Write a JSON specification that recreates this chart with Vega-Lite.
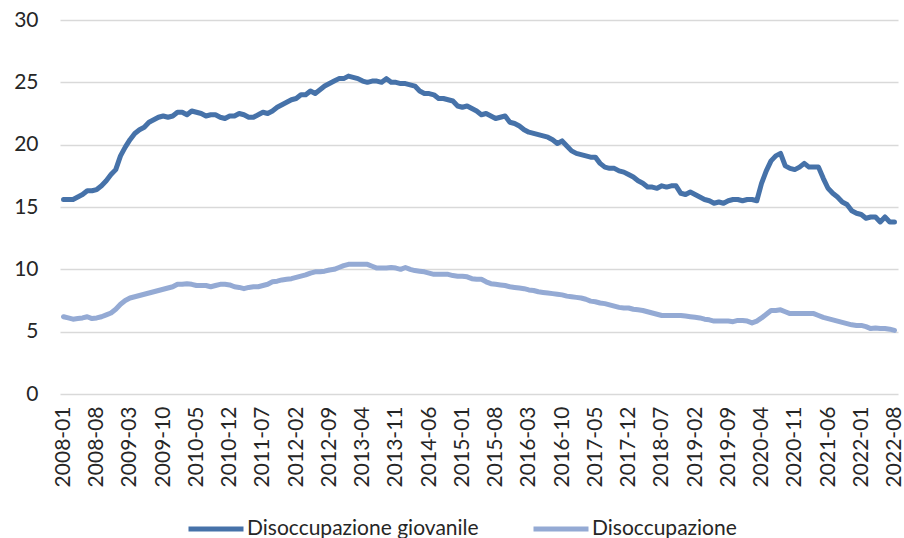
{
  "$schema": "https://vega.github.io/schema/vega-lite/v6.json",
  "width": 838,
  "height": 374,
  "autosize": {"type": "none"},
  "padding": {"left": 60, "top": 20, "right": 6, "bottom": 144},
  "background": "white",
  "config": {
    "view": {"stroke": null},
    "font": "Lato",
    "axis": {"labelFont": "Lato", "labelColor": "#262626", "domain": false, "ticks": false}
  },
  "data": {"values": [
{"m":"2008-01","g":15.6,"d":6.2},{"m":"2008-02","g":15.6,"d":6.1},{"m":"2008-03","g":15.6,"d":6.0},{"m":"2008-04","g":15.8,"d":6.05},{"m":"2008-05","g":16.0,"d":6.1},{"m":"2008-06","g":16.3,"d":6.2},{"m":"2008-07","g":16.3,"d":6.05},{"m":"2008-08","g":16.4,"d":6.1},{"m":"2008-09","g":16.7,"d":6.2},{"m":"2008-10","g":17.1,"d":6.35},{"m":"2008-11","g":17.6,"d":6.5},{"m":"2008-12","g":18.0,"d":6.8},
{"m":"2009-01","g":19.1,"d":7.2},{"m":"2009-02","g":19.8,"d":7.5},{"m":"2009-03","g":20.4,"d":7.7},{"m":"2009-04","g":20.9,"d":7.8},{"m":"2009-05","g":21.2,"d":7.9},{"m":"2009-06","g":21.4,"d":8.0},{"m":"2009-07","g":21.8,"d":8.1},{"m":"2009-08","g":22.0,"d":8.2},{"m":"2009-09","g":22.2,"d":8.3},{"m":"2009-10","g":22.3,"d":8.4},{"m":"2009-11","g":22.2,"d":8.5},{"m":"2009-12","g":22.3,"d":8.6},
{"m":"2010-01","g":22.6,"d":8.8},{"m":"2010-02","g":22.6,"d":8.8},{"m":"2010-03","g":22.4,"d":8.85},{"m":"2010-04","g":22.7,"d":8.8},{"m":"2010-05","g":22.6,"d":8.7},{"m":"2010-06","g":22.5,"d":8.7},{"m":"2010-07","g":22.3,"d":8.7},{"m":"2010-08","g":22.4,"d":8.6},{"m":"2010-09","g":22.4,"d":8.7},{"m":"2010-10","g":22.2,"d":8.8},{"m":"2010-11","g":22.1,"d":8.8},{"m":"2010-12","g":22.3,"d":8.75},
{"m":"2011-01","g":22.3,"d":8.6},{"m":"2011-02","g":22.5,"d":8.55},{"m":"2011-03","g":22.4,"d":8.45},{"m":"2011-04","g":22.2,"d":8.55},{"m":"2011-05","g":22.2,"d":8.6},{"m":"2011-06","g":22.4,"d":8.6},{"m":"2011-07","g":22.6,"d":8.7},{"m":"2011-08","g":22.5,"d":8.8},{"m":"2011-09","g":22.7,"d":9.0},{"m":"2011-10","g":23.0,"d":9.05},{"m":"2011-11","g":23.2,"d":9.15},{"m":"2011-12","g":23.4,"d":9.2},
{"m":"2012-01","g":23.6,"d":9.25},{"m":"2012-02","g":23.7,"d":9.35},{"m":"2012-03","g":24.0,"d":9.45},{"m":"2012-04","g":24.0,"d":9.55},{"m":"2012-05","g":24.3,"d":9.7},{"m":"2012-06","g":24.1,"d":9.8},{"m":"2012-07","g":24.4,"d":9.8},{"m":"2012-08","g":24.7,"d":9.85},{"m":"2012-09","g":24.9,"d":9.95},{"m":"2012-10","g":25.1,"d":10.0},{"m":"2012-11","g":25.3,"d":10.15},{"m":"2012-12","g":25.3,"d":10.3},
{"m":"2013-01","g":25.5,"d":10.4},{"m":"2013-02","g":25.4,"d":10.4},{"m":"2013-03","g":25.3,"d":10.4},{"m":"2013-04","g":25.1,"d":10.4},{"m":"2013-05","g":25.0,"d":10.4},{"m":"2013-06","g":25.1,"d":10.25},{"m":"2013-07","g":25.1,"d":10.1},{"m":"2013-08","g":25.0,"d":10.1},{"m":"2013-09","g":25.3,"d":10.1},{"m":"2013-10","g":25.0,"d":10.15},{"m":"2013-11","g":25.0,"d":10.1},{"m":"2013-12","g":24.9,"d":10.0},
{"m":"2014-01","g":24.9,"d":10.15},{"m":"2014-02","g":24.8,"d":10.0},{"m":"2014-03","g":24.7,"d":9.9},{"m":"2014-04","g":24.3,"d":9.85},{"m":"2014-05","g":24.1,"d":9.8},{"m":"2014-06","g":24.1,"d":9.7},{"m":"2014-07","g":24.0,"d":9.6},{"m":"2014-08","g":23.7,"d":9.6},{"m":"2014-09","g":23.7,"d":9.6},{"m":"2014-10","g":23.6,"d":9.6},{"m":"2014-11","g":23.5,"d":9.5},{"m":"2014-12","g":23.1,"d":9.45},
{"m":"2015-01","g":23.0,"d":9.45},{"m":"2015-02","g":23.1,"d":9.4},{"m":"2015-03","g":22.9,"d":9.25},{"m":"2015-04","g":22.7,"d":9.2},{"m":"2015-05","g":22.4,"d":9.2},{"m":"2015-06","g":22.5,"d":9.0},{"m":"2015-07","g":22.3,"d":8.85},{"m":"2015-08","g":22.1,"d":8.8},{"m":"2015-09","g":22.2,"d":8.75},{"m":"2015-10","g":22.3,"d":8.7},{"m":"2015-11","g":21.8,"d":8.6},{"m":"2015-12","g":21.7,"d":8.55},
{"m":"2016-01","g":21.5,"d":8.5},{"m":"2016-02","g":21.2,"d":8.45},{"m":"2016-03","g":21.0,"d":8.35},{"m":"2016-04","g":20.9,"d":8.3},{"m":"2016-05","g":20.8,"d":8.2},{"m":"2016-06","g":20.7,"d":8.15},{"m":"2016-07","g":20.6,"d":8.1},{"m":"2016-08","g":20.4,"d":8.05},{"m":"2016-09","g":20.1,"d":8.0},{"m":"2016-10","g":20.3,"d":7.95},{"m":"2016-11","g":19.9,"d":7.85},{"m":"2016-12","g":19.5,"d":7.8},
{"m":"2017-01","g":19.3,"d":7.75},{"m":"2017-02","g":19.2,"d":7.7},{"m":"2017-03","g":19.1,"d":7.6},{"m":"2017-04","g":19.0,"d":7.45},{"m":"2017-05","g":19.0,"d":7.4},{"m":"2017-06","g":18.5,"d":7.3},{"m":"2017-07","g":18.2,"d":7.25},{"m":"2017-08","g":18.1,"d":7.15},{"m":"2017-09","g":18.1,"d":7.05},{"m":"2017-10","g":17.9,"d":6.95},{"m":"2017-11","g":17.8,"d":6.9},{"m":"2017-12","g":17.6,"d":6.9},
{"m":"2018-01","g":17.4,"d":6.8},{"m":"2018-02","g":17.1,"d":6.75},{"m":"2018-03","g":16.9,"d":6.7},{"m":"2018-04","g":16.6,"d":6.6},{"m":"2018-05","g":16.6,"d":6.5},{"m":"2018-06","g":16.5,"d":6.4},{"m":"2018-07","g":16.7,"d":6.3},{"m":"2018-08","g":16.6,"d":6.3},{"m":"2018-09","g":16.7,"d":6.3},{"m":"2018-10","g":16.7,"d":6.3},{"m":"2018-11","g":16.1,"d":6.3},{"m":"2018-12","g":16.0,"d":6.25},
{"m":"2019-01","g":16.2,"d":6.2},{"m":"2019-02","g":16.0,"d":6.15},{"m":"2019-03","g":15.8,"d":6.1},{"m":"2019-04","g":15.6,"d":6.0},{"m":"2019-05","g":15.5,"d":5.95},{"m":"2019-06","g":15.3,"d":5.85},{"m":"2019-07","g":15.4,"d":5.85},{"m":"2019-08","g":15.3,"d":5.85},{"m":"2019-09","g":15.5,"d":5.85},{"m":"2019-10","g":15.6,"d":5.8},{"m":"2019-11","g":15.6,"d":5.9},{"m":"2019-12","g":15.5,"d":5.9},
{"m":"2020-01","g":15.6,"d":5.85},{"m":"2020-02","g":15.6,"d":5.7},{"m":"2020-03","g":15.5,"d":5.85},{"m":"2020-04","g":16.9,"d":6.1},{"m":"2020-05","g":17.9,"d":6.4},{"m":"2020-06","g":18.7,"d":6.7},{"m":"2020-07","g":19.1,"d":6.7},{"m":"2020-08","g":19.3,"d":6.75},{"m":"2020-09","g":18.3,"d":6.6},{"m":"2020-10","g":18.1,"d":6.45},{"m":"2020-11","g":18.0,"d":6.45},{"m":"2020-12","g":18.2,"d":6.45},
{"m":"2021-01","g":18.5,"d":6.45},{"m":"2021-02","g":18.2,"d":6.45},{"m":"2021-03","g":18.2,"d":6.45},{"m":"2021-04","g":18.2,"d":6.3},{"m":"2021-05","g":17.3,"d":6.15},{"m":"2021-06","g":16.5,"d":6.05},{"m":"2021-07","g":16.1,"d":5.95},{"m":"2021-08","g":15.8,"d":5.85},{"m":"2021-09","g":15.4,"d":5.75},{"m":"2021-10","g":15.2,"d":5.65},{"m":"2021-11","g":14.7,"d":5.55},{"m":"2021-12","g":14.5,"d":5.5},
{"m":"2022-01","g":14.4,"d":5.5},{"m":"2022-02","g":14.1,"d":5.4},{"m":"2022-03","g":14.2,"d":5.25},{"m":"2022-04","g":14.2,"d":5.3},{"m":"2022-05","g":13.8,"d":5.25},{"m":"2022-06","g":14.2,"d":5.25},{"m":"2022-07","g":13.8,"d":5.2},{"m":"2022-08","g":13.8,"d":5.1}
  ]},
  "encoding": {
    "x": {
      "field": "m", "type": "ordinal", "sort": null,
      "scale": {"type": "point", "padding": 0.74},
      "axis": {
        "title": null, "labelAngle": -90, "labelFontSize": 21, "labelPadding": 12, "grid": false,
        "values": ["2008-01","2008-08","2009-03","2009-10","2010-05","2010-12","2011-07","2012-02","2012-09","2013-04","2013-11","2014-06","2015-01","2015-08","2016-03","2016-10","2017-05","2017-12","2018-07","2019-02","2019-09","2020-04","2020-11","2021-06","2022-01","2022-08"]
      }
    }
  },
  "layer": [
    {
      "mark": {"type": "line", "strokeWidth": 5, "strokeJoin": "round", "strokeCap": "round"},
      "encoding": {
        "y": {"field": "g", "type": "quantitative", "scale": {"domain": [0, 30]},
          "axis": {"title": null, "values": [0,5,10,15,20,25,30], "labelFontSize": 21, "labelPadding": 22, "grid": true, "gridColor": "#D9D9D9", "gridWidth": 1.5}},
        "color": {"datum": "Disoccupazione giovanile", "type": "nominal",
          "scale": {"domain": ["Disoccupazione giovanile", "Disoccupazione"], "range": ["#4672A9", "#94AAD4"]},
          "legend": {"title": null, "orient": "none", "legendX": 126, "legendY": 479, "padding": 0, "direction": "horizontal",
            "symbolType": "stroke", "symbolSize": 3025, "symbolStrokeWidth": 5, "labelFont": "Lato", "labelFontSize": 21, "labelLimit": 400, "labelColor": "#262626", "labelOffset": 1, "columnPadding": 44}}
      }
    },
    {
      "mark": {"type": "line", "strokeWidth": 5, "strokeJoin": "round", "strokeCap": "round"},
      "encoding": {
        "y": {"field": "d", "type": "quantitative"},
        "color": {"datum": "Disoccupazione", "type": "nominal"}
      }
    }
  ]
}
